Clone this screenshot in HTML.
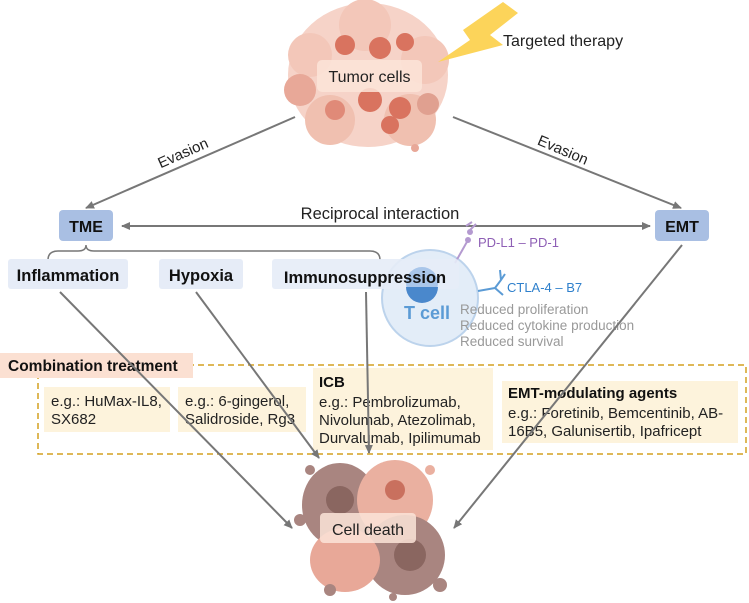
<!DOCTYPE html>
<html><head><meta charset="utf-8"><style>
html,body{margin:0;padding:0;background:#fff;}
svg{display:block;font-family:"Liberation Sans",Arial,sans-serif;}
</style></head><body>
<svg width="749" height="603" viewBox="0 0 749 603" xmlns="http://www.w3.org/2000/svg">
<defs>
<marker id="ah" markerWidth="10" markerHeight="10" refX="8" refY="5" orient="auto" markerUnits="userSpaceOnUse">
<path d="M0,1 L9,5 L0,9 Z" fill="#777"/></marker>
<marker id="ahs" markerWidth="10" markerHeight="10" refX="1" refY="5" orient="auto" markerUnits="userSpaceOnUse">
<path d="M9,1 L0,5 L9,9 Z" fill="#777"/></marker>
</defs>

<!-- Tumor cluster -->
<g>
<ellipse cx="368" cy="75" rx="80" ry="72" fill="#f6d3c8"/>
<circle cx="310" cy="55" r="22" fill="#f3c7b9"/><circle cx="425" cy="60" r="24" fill="#f3c7b9"/>
<circle cx="330" cy="120" r="25" fill="#f0c0b0"/><circle cx="410" cy="120" r="26" fill="#f0c0b0"/>
<circle cx="365" cy="25" r="26" fill="#f3c7b9"/><circle cx="300" cy="90" r="16" fill="#e8a898"/>
<circle cx="345" cy="45" r="10" fill="#d9735f"/><circle cx="380" cy="48" r="11" fill="#d9735f"/>
<circle cx="405" cy="42" r="9" fill="#d9735f"/><circle cx="370" cy="100" r="12" fill="#d9735f"/>
<circle cx="400" cy="108" r="11" fill="#d9735f"/><circle cx="335" cy="110" r="10" fill="#e08a78"/>
<circle cx="428" cy="104" r="11" fill="#e0a090"/><circle cx="390" cy="125" r="9" fill="#d9735f"/>
<circle cx="415" cy="148" r="4" fill="#e8a898"/>
</g>
<rect x="317" y="60" width="105" height="32" rx="5" fill="#fbe4d8" opacity="0.85"/>
<text x="369.5" y="82" font-size="16" text-anchor="middle" fill="#222">Tumor cells</text>

<!-- Lightning -->
<polygon points="503,2 518,13 490,35 503,45 438,62 470,40 463,30" fill="#fcd45a"/>
<text x="503" y="46" font-size="16" fill="#222">Targeted therapy</text>

<!-- Evasion arrows -->
<line x1="295" y1="117" x2="86" y2="208" stroke="#777" stroke-width="2" marker-end="url(#ah)"/>
<line x1="453" y1="117" x2="681" y2="208" stroke="#777" stroke-width="2" marker-end="url(#ah)"/>
<text x="183" y="158" font-size="15" text-anchor="middle" fill="#222" transform="rotate(-24 183 153)">Evasion</text>
<text x="563" y="155" font-size="15" text-anchor="middle" fill="#222" transform="rotate(23 563 150)">Evasion</text>

<!-- TME / EMT -->
<rect x="59" y="210" width="54" height="31" rx="4" fill="#a9bfe3"/>
<text x="86" y="232" font-size="16" font-weight="bold" text-anchor="middle" fill="#111">TME</text>
<rect x="655" y="210" width="54" height="31" rx="4" fill="#a9bfe3"/>
<text x="682" y="232" font-size="16" font-weight="bold" text-anchor="middle" fill="#111">EMT</text>
<line x1="122" y1="226" x2="650" y2="226" stroke="#777" stroke-width="2" marker-start="url(#ahs)" marker-end="url(#ah)"/>
<text x="380" y="219" font-size="16.5" text-anchor="middle" fill="#222">Reciprocal interaction</text>

<!-- bracket -->
<path d="M48,260 Q48,251 58,251 L78,251 Q86,251 86,245 Q86,251 94,251 L370,251 Q380,251 380,260" fill="none" stroke="#777" stroke-width="1.5"/>

<!-- T cell -->
<circle cx="430" cy="298" r="48" fill="#e3edf8" stroke="#bcd3ec" stroke-width="2"/>
<line x1="455" y1="263" x2="468" y2="240" stroke="#b49ad0" stroke-width="2"/>
<circle cx="468" cy="240" r="3" fill="#b49ad0"/><circle cx="470" cy="232" r="3" fill="#b49ad0"/>
<path d="M466,226 L472,222 M470,230 L476,224" stroke="#b49ad0" stroke-width="2"/>
<line x1="478" y1="291" x2="495" y2="288" stroke="#5b9bd5" stroke-width="2"/>
<path d="M495,288 L503,295 M495,288 L501,280 L500,270 M501,280 L505,274" stroke="#5b9bd5" stroke-width="2" fill="none"/>

<!-- sub boxes -->
<rect x="8" y="259" width="120" height="30" rx="3" fill="#e6ecf7"/>
<text x="68" y="281" font-size="16.5" font-weight="bold" text-anchor="middle" fill="#111">Inflammation</text>
<rect x="159" y="259" width="84" height="30" rx="3" fill="#e6ecf7"/>
<text x="201" y="281" font-size="16.5" font-weight="bold" text-anchor="middle" fill="#111">Hypoxia</text>
<rect x="272" y="259" width="187" height="30" rx="3" fill="#e6ecf7" opacity="0.9"/>
<circle cx="422" cy="283" r="16" fill="#a9c6ea"/>
<path d="M406,287 A16,16 0 0 0 438,287 Z" fill="#4a88cc"/>
<text x="365" y="283" font-size="16.5" font-weight="bold" text-anchor="middle" fill="#111">Immunosuppression</text>

<text x="427" y="319" font-size="18" font-weight="bold" text-anchor="middle" fill="#5b9bd5">T cell</text>
<text x="478" y="247" font-size="13" fill="#8e5fb5">PD-L1 – PD-1</text>
<text x="507" y="292" font-size="13" fill="#2f80cc">CTLA-4 – B7</text>
<text x="460" y="314" font-size="13.5" fill="#999">Reduced proliferation</text>
<text x="460" y="330" font-size="13.5" fill="#999">Reduced cytokine production</text>
<text x="460" y="346" font-size="13.5" fill="#999">Reduced survival</text>

<!-- combination -->
<rect x="38" y="365" width="708" height="89" fill="none" stroke="#d4a020" stroke-width="1.5" stroke-dasharray="6,4"/>
<rect x="0" y="353" width="193" height="25" fill="#fbe0d2"/>
<text x="8" y="371" font-size="15.5" font-weight="bold" fill="#111">Combination treatment</text>

<rect x="44" y="387" width="126" height="45" fill="#fdf3dc"/>
<text x="51" y="406" font-size="15" fill="#222">e.g.: HuMax-IL8,</text>
<text x="51" y="424" font-size="15" fill="#222">SX682</text>
<rect x="178" y="387" width="128" height="45" fill="#fdf3dc"/>
<text x="185" y="406" font-size="15" fill="#222">e.g.: 6-gingerol,</text>
<text x="185" y="424" font-size="15" fill="#222">Salidroside, Rg3</text>
<rect x="313" y="368" width="180" height="82" fill="#fdf3dc"/>
<text x="319" y="387" font-size="15" font-weight="bold" fill="#111">ICB</text>
<text x="319" y="407" font-size="15" fill="#222">e.g.: Pembrolizumab,</text>
<text x="319" y="425" font-size="15" fill="#222">Nivolumab, Atezolimab,</text>
<text x="319" y="443" font-size="15" fill="#222">Durvalumab, Ipilimumab</text>
<rect x="502" y="381" width="236" height="62" fill="#fdf3dc"/>
<text x="508" y="398" font-size="15" font-weight="bold" fill="#111">EMT-modulating agents</text>
<text x="508" y="418" font-size="15" fill="#222">e.g.: Foretinib, Bemcentinib, AB-</text>
<text x="508" y="436" font-size="15" fill="#222">16B5, Galunisertib, Ipafricept</text>

<!-- cell death cluster -->
<g>
<ellipse cx="340" cy="505" rx="38" ry="42" fill="#a98580"/>
<ellipse cx="395" cy="500" rx="38" ry="40" fill="#eab0a0"/>
<ellipse cx="405" cy="555" rx="40" ry="40" fill="#a98580"/>
<ellipse cx="345" cy="560" rx="35" ry="32" fill="#e8a898"/>
<circle cx="340" cy="500" r="14" fill="#8a6660"/><circle cx="410" cy="555" r="16" fill="#8a6660"/>
<circle cx="395" cy="490" r="10" fill="#c9705e"/><circle cx="310" cy="470" r="5" fill="#a98580"/>
<circle cx="430" cy="470" r="5" fill="#eab0a0"/><circle cx="440" cy="585" r="7" fill="#a98580"/>
<circle cx="330" cy="590" r="6" fill="#a98580"/><circle cx="300" cy="520" r="6" fill="#a98580"/>
<circle cx="393" cy="597" r="4" fill="#a98580"/>
</g>
<rect x="320" y="513" width="96" height="30" rx="4" fill="#fbe4d8" opacity="0.85"/>
<text x="368" y="535" font-size="16" text-anchor="middle" fill="#222">Cell death</text>

<!-- lines to cell death -->
<line x1="60" y1="292" x2="292" y2="528" stroke="#777" stroke-width="2" marker-end="url(#ah)"/>
<line x1="196" y1="292" x2="319" y2="458" stroke="#777" stroke-width="2" marker-end="url(#ah)"/>
<line x1="366" y1="292" x2="369" y2="453" stroke="#777" stroke-width="2" marker-end="url(#ah)"/>
<line x1="682" y1="245" x2="454" y2="528" stroke="#777" stroke-width="2" marker-end="url(#ah)"/>
</svg>
</body></html>
